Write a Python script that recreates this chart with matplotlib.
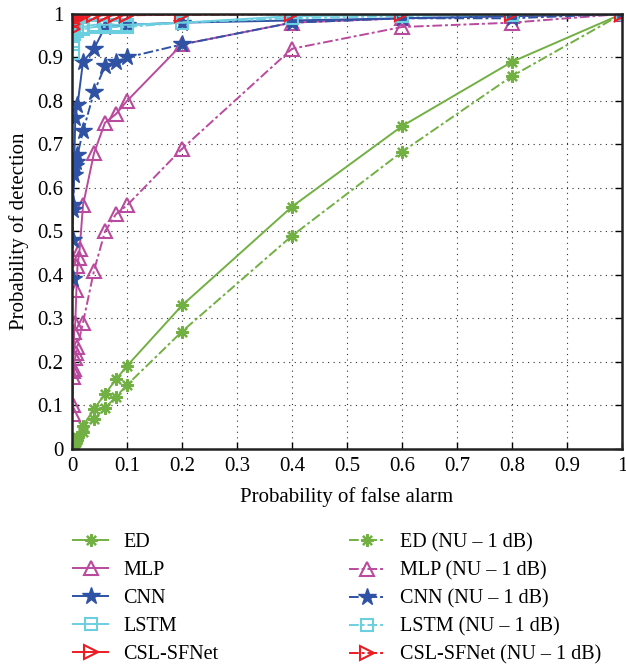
import matplotlib
matplotlib.use("Agg")
import matplotlib.pyplot as plt
from matplotlib.ticker import FormatStrFormatter

plt.rcParams['font.family'] = ['Liberation Serif', 'DejaVu Serif']

# ED (energy detector)
ed_x = [0.0, 0.001, 0.002, 0.004, 0.006, 0.008, 0.01, 0.02, 0.04, 0.06, 0.08, 0.1, 0.2, 0.4, 0.6, 0.8, 1.0]
ed_y = [0.0, 0.004, 0.008, 0.013, 0.018, 0.022, 0.027, 0.053, 0.092, 0.126, 0.160, 0.191, 0.33, 0.557, 0.742, 0.89, 1.0]
ed_nu_y = [0.0, 0.003, 0.006, 0.010, 0.013, 0.016, 0.02, 0.04, 0.069, 0.094, 0.120, 0.147, 0.27, 0.49, 0.683, 0.857, 1.0]

# MLP
mlp_x = [0.001, 0.002, 0.004, 0.006, 0.008, 0.01, 0.012, 0.014, 0.02, 0.04, 0.06, 0.08, 0.1, 0.2, 0.4, 0.6, 0.8, 1.0]
mlp_y = [0.10, 0.18, 0.27, 0.29, 0.365, 0.42, 0.44, 0.46, 0.56, 0.68, 0.75, 0.77, 0.80, 0.93, 0.98, 0.99, 0.995, 1.0]
mlp_nu_x = [0.001, 0.002, 0.004, 0.006, 0.008, 0.01, 0.02, 0.04, 0.06, 0.08, 0.1, 0.2, 0.4, 0.6, 0.8, 1.0]
mlp_nu_y = [0.08, 0.165, 0.185, 0.21, 0.22, 0.235, 0.29, 0.41, 0.50, 0.54, 0.56, 0.69, 0.92, 0.97, 0.98, 1.0]

# CNN
cnn_x = [0.001, 0.002, 0.004, 0.006, 0.01, 0.02, 0.04, 0.06, 0.1, 0.2, 0.4, 0.6, 0.8, 1.0]
cnn_y = [0.48, 0.56, 0.65, 0.76, 0.79, 0.89, 0.92, 0.97, 0.975, 0.98, 0.985, 0.99, 0.995, 1.0]
cnn_nu_x = [0.001, 0.002, 0.004, 0.006, 0.008, 0.01, 0.02, 0.04, 0.06, 0.08, 0.1, 0.2, 0.4, 0.6, 0.8, 1.0]
cnn_nu_y = [0.39, 0.55, 0.63, 0.65, 0.66, 0.676, 0.73, 0.82, 0.88, 0.89, 0.90, 0.93, 0.98, 0.99, 0.99, 1.0]

# LSTM
lstm_x = [0.001, 0.002, 0.004, 0.01, 0.02, 0.04, 0.06, 0.08, 0.1, 0.2, 0.4, 0.6, 0.8, 1.0]
lstm_y = [0.93, 0.95, 0.96, 0.965, 0.97, 0.975, 0.975, 0.975, 0.975, 0.98, 0.995, 0.998, 0.999, 1.0]
lstm_nu_y = [0.91, 0.93, 0.955, 0.96, 0.965, 0.97, 0.97, 0.97, 0.97, 0.98, 0.99, 0.995, 0.998, 1.0]

# CSL-SFNet
csl_x = [0.001, 0.002, 0.003, 0.004, 0.006, 0.008, 0.01, 0.02, 0.04, 0.06, 0.08, 0.1, 0.2, 0.4, 0.6, 0.8, 1.0]
csl_y = [0.975, 0.985, 0.99, 0.993, 0.995, 0.996, 0.997, 0.998, 0.998, 0.998, 0.998, 0.998, 0.999, 1.0, 1.0, 1.0, 1.0]
csl_nu_y = [0.965, 0.978, 0.985, 0.99, 0.992, 0.994, 0.995, 0.996, 0.997, 0.997, 0.997, 0.997, 0.998, 0.999, 1.0, 1.0, 1.0]

green = '#72B043'
magenta = '#B94A9E'
blue = '#2F52A4'
cyan = '#6CCFE0'
red = '#EC1C24'
dash = (0, (5, 1.5, 1.5, 1.5))

fig = plt.figure(figsize=(6.26, 6.64), dpi=100)
ax = fig.add_axes([0.115, 0.3238, 0.8786, 0.6552])

lw = 1.4
ax.plot(ed_x, ed_y, '-', color=green, lw=lw, marker=(8, 2, 0), ms=9, mew=1.6, label='ED')
ax.plot(mlp_x, mlp_y, '-', color=magenta, lw=lw, marker='^', ms=10, mfc='none', mew=1.5, label='MLP')
ax.plot(cnn_x, cnn_y, '-', color=blue, lw=lw, marker='*', ms=13, label='CNN')
ax.plot(lstm_x, lstm_y, '-', color=cyan, lw=lw, marker='s', ms=8, mfc='none', mew=1.5, label='LSTM')
ax.plot(csl_x, csl_y, '-', color=red, lw=lw, marker='>', ms=10, mfc='none', mew=1.5, label='CSL-SFNet')

ax.plot(ed_x, ed_nu_y, color=green, ls=dash, lw=lw, marker=(8, 2, 0), ms=9, mew=1.6, label='ED (NU – 1 dB)')
ax.plot(mlp_nu_x, mlp_nu_y, color=magenta, ls=dash, lw=lw, marker='^', ms=10, mfc='none', mew=1.5, label='MLP (NU – 1 dB)')
ax.plot(cnn_nu_x, cnn_nu_y, color=blue, ls=dash, lw=lw, marker='*', ms=13, label='CNN (NU – 1 dB)')
ax.plot(lstm_x, lstm_nu_y, color=cyan, ls=dash, lw=lw, marker='s', ms=8, mfc='none', mew=1.5, label='LSTM (NU – 1 dB)')
ax.plot(csl_x, csl_nu_y, color=red, ls=dash, lw=lw, marker='>', ms=10, mfc='none', mew=1.5, label='CSL-SFNet (NU – 1 dB)')

ax.set_xlim(0, 1)
ax.set_ylim(0, 1)
ticks = [i / 10 for i in range(11)]
ax.set_xticks(ticks)
ax.set_yticks(ticks)
ax.xaxis.set_major_formatter(FormatStrFormatter('%g'))
ax.yaxis.set_major_formatter(FormatStrFormatter('%g'))
ax.tick_params(direction='in', top=True, right=True, length=5, width=1, labelsize=15, pad=6)
ax.grid(True, color='black', ls=(0, (1, 4)), lw=0.8, alpha=0.8)
for s in ax.spines.values():
    s.set_linewidth(1.8)
    s.set_color('#222222')

ax.set_xlabel('Probability of false alarm', fontsize=15, labelpad=8)
ax.set_ylabel('Probability of detection', fontsize=15, labelpad=6)

fig.legend(loc='upper left', bbox_to_anchor=(0.1166, 0.197), ncol=2, frameon=False,
           fontsize=14.5, handlelength=1.75, handletextpad=0.75, columnspacing=6.5,
           labelspacing=0.44, borderpad=0, borderaxespad=0)

fig.savefig('out.png', dpi=100)
